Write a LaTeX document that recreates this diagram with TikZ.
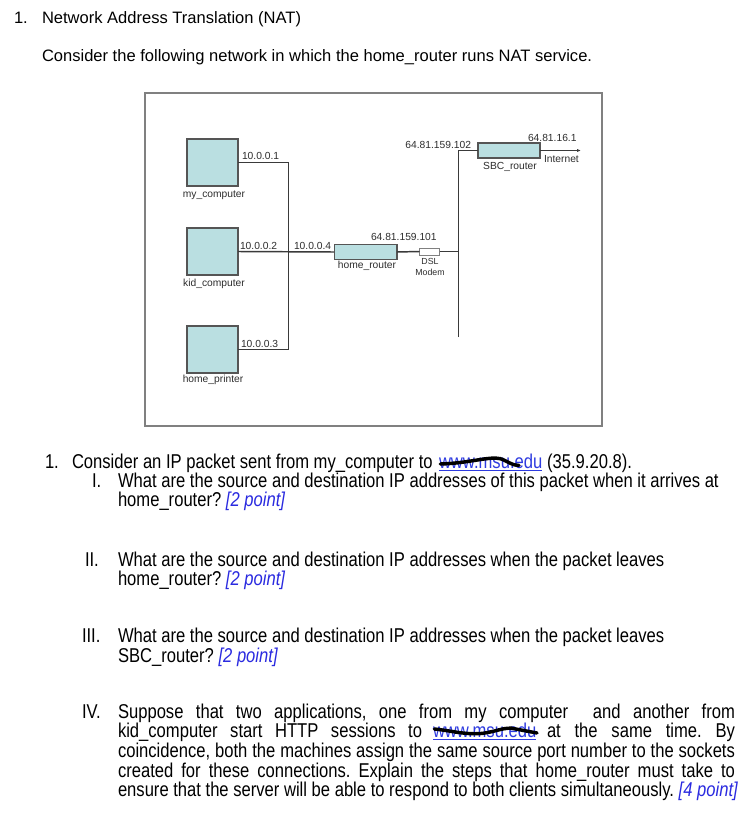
\documentclass[tikz,border=0pt]{standalone}
\usepackage{fontspec}
\setmainfont{Liberation Sans}
\newfontfamily\narrowfont[FakeStretch=0.83]{Liberation Sans}
\usepackage{graphicx}
\usetikzlibrary{arrows.meta, positioning, calc}
\definecolor{hostfill}{HTML}{BADFE1}
\definecolor{framegray}{HTML}{808080}
\definecolor{boxgray}{HTML}{555555}
\definecolor{wiregray}{HTML}{3A3A3A}
\definecolor{labgray}{HTML}{2E2E2E}
\definecolor{linkblue}{HTML}{2E3BE0}
\definecolor{ptblue}{HTML}{2A2AE0}
\frenchspacing

\begin{document}
\begin{tikzpicture}[x=0.75pt, y=-0.75pt,
    every node/.style={inner sep=0pt, outer sep=0pt},
    head/.style={font=\fontsize{12.4}{14}\selectfont, anchor=base west},
    qtxt/.style={font=\narrowfont\fontsize{15}{14.6}\selectfont, anchor=base west},
    lbl/.style={font=\fontsize{7.7}{9}\selectfont, text=labgray},
    frame/.style={rectangle, draw=framegray, line width=1.4pt,
                  minimum width=342.75pt, minimum height=249.75pt},
    host/.style={rectangle, draw=boxgray, line width=1pt, fill=hostfill,
                 minimum width=38.25pt, minimum height=35.25pt},
    rtr/.style={rectangle, draw=boxgray, line width=1pt, fill=hostfill,
                minimum width=47pt, minimum height=11pt},
    modem/.style={rectangle, draw=gray, line width=0.5pt, fill=white,
                  minimum width=15pt, minimum height=5.25pt},
    wire/.style={wiregray, line width=0.75pt},
    thickwire/.style={wiregray, line width=1.1pt},
    scrib/.style={line width=2.6pt, line cap=round, black}
]
    \useasboundingbox[fill=white] (0,0) rectangle (748,817);

    \node[head] (t1n) at (14,24) {1.};
    \node[head] (t1) at (42,24) {Network Address Translation (NAT)};
    \node[head] (t2) at (42,62) {Consider the following network in which the home\_router runs NAT service.};

    \node[frame] (fr) at (373.5,259.5) {};

    \node[host] (mycomp) at (212.5,162.5) {};
    \node[host] (kidcomp) at (212.5,251.5) {};
    \node[host] (printer) at (212.5,349.5) {};
    \node[lbl, anchor=base] (mycompl) at (214,197) {my\_computer};
    \node[lbl, anchor=base] (kidcompl) at (214,286.5) {kid\_computer};
    \node[lbl, anchor=base] (printerl) at (213,382.5) {home\_printer};

    \coordinate (bus) at (288,0);
    \draw[wire] (mycomp.east) -- (mycomp.east -| bus) -- (printer.east -| bus) -- (printer.east);
    \node[lbl, anchor=base west] (ip1) at (242,159.5) {10.0.0.1};
    \node[lbl, anchor=base west] (ip2) at (240,249.5) {10.0.0.2};
    \node[lbl, anchor=base west] (ip3) at (241,347) {10.0.0.3};

    \node[rtr] (homert) at (365.5,252) {};
    \draw[thickwire] (kidcomp.east) -- (homert.west);
    \node[lbl, anchor=base west] (ip4) at (294,249) {10.0.0.4};
    \node[lbl, anchor=base west] (ipout) at (371,240.3) {64.81.159.101};
    \node[lbl, anchor=base] (homertl) at (367,268) {home\_router};

    \node[modem] (dsl) at (429.5,251.5) {};
    \node[lbl, anchor=base, font=\fontsize{6.6}{8}\selectfont] (dsll) at (430,264.7) {DSL};
    \node[lbl, anchor=base, font=\fontsize{6.6}{8}\selectfont] (modeml) at (430,275.3) {Modem};

    \node[rtr, minimum width=46.5pt, minimum height=11.25pt] (sbc) at (509,150.5) {};
    \coordinate (wanbot) at (458,337);
    \coordinate (inet) at (581,150.5);
    \draw[thickwire] (homert.east) -- (dsl.west);
    \draw[thickwire] (dsl.east) -- (dsl.east -| wanbot);
    \draw[wire] (wanbot) |- (sbc.west);
    \draw[wire, -{Latex[length=3pt, width=2.4pt]}] (sbc.east) -- (inet);
    \node[lbl, anchor=base east] (ipsbc) at (471,148.3) {64.81.159.102};
    \node[lbl, anchor=base west] (ipnet) at (528,141.7) {64.81.16.1};
    \node[lbl, anchor=base west] (inetl) at (544,162.3) {Internet};
    \node[lbl, anchor=base] (sbcl) at (510,169.3) {SBC\_router};

    \node[qtxt] (q1n) at (45,468) {1.};
    \node[qtxt] (q1) at (72,468) {Consider an IP packet sent from my\_computer to};
    \node[qtxt] (url1) at (439,468) {\color{linkblue}\underline{www.msu.edu}};
    \node[qtxt] (q1e) at ([xshift=3.6pt]url1.base east) {(35.9.20.8).};
    \draw[scrib] ([xshift=1pt, yshift=3pt]url1.base west)
        .. controls ([xshift=22pt, yshift=3.5pt]url1.base west) and ([xshift=38pt, yshift=9pt]url1.base west)
        .. ([xshift=46pt, yshift=7pt]url1.base west)
        .. controls ([xshift=52pt, yshift=5pt]url1.base west) and ([xshift=54pt, yshift=2pt]url1.base west)
        .. ([xshift=60pt, yshift=2pt]url1.base west);

    \node[qtxt] (q1in) at (92,487) {I.};
    \node[qtxt] (q1i) at (118,487) {What are the source and destination IP addresses of this packet when it arrives at};
    \node[qtxt] (q1ib) at (118,506) {home\_router? {\color{ptblue}\itshape[2 point]}};

    \node[qtxt] (q2n) at (85,566) {II.};
    \node[qtxt] (q2) at (118,566) {What are the source and destination IP addresses when the packet leaves};
    \node[qtxt] (q2b) at (118,585) {home\_router? {\color{ptblue}\itshape[2 point]}};

    \node[qtxt] (q3n) at (82,642) {III.};
    \node[qtxt] (q3) at (118,642) {What are the source and destination IP addresses when the packet leaves};
    \node[qtxt] (q3b) at (118,662) {SBC\_router? {\color{ptblue}\itshape[2 point]}};

    \node[qtxt] (q4n) at (82,718) {IV.};
    \node[qtxt] (q4a) at (118,718) {\makebox[462.75pt][s]{Suppose that two applications, one from my computer\ \ and another from}};
    \node[qtxt] (q4b) at (118,737) {\makebox[228pt][s]{kid\_computer start HTTP sessions to}};
    \node[qtxt] (url2) at (433,737) {\color{linkblue}\underline{www.msu.edu}};
    \node[qtxt, anchor=base east] (q4c) at (735,737) {\makebox[141pt][s]{at the same time. By}};
    \draw[scrib] ([xshift=1pt, yshift=6pt]url2.base west)
        .. controls ([xshift=12pt, yshift=5pt]url2.base west) and ([xshift=22pt, yshift=2pt]url2.base west)
        .. ([xshift=34pt, yshift=2.5pt]url2.base west)
        .. controls ([xshift=46pt, yshift=3pt]url2.base west) and ([xshift=54pt, yshift=8.5pt]url2.base west)
        .. ([xshift=62pt, yshift=6pt]url2.base west)
        -- ([xshift=78pt, yshift=3pt]url2.base west);
    \node[qtxt] (q4d) at (118,757) {\makebox[462.75pt][s]{coincidence, both the machines assign the same source port number to the sockets}};
    \node[qtxt] (q4e) at (118,777) {\makebox[462.75pt][s]{created for these connections. Explain the steps that home\_router must take to}};
    \node[qtxt] (q4f) at (118,796) {ensure that the server will be able to respond to both clients simultaneously. {\color{ptblue}\itshape[4 point]}};
\end{tikzpicture}
\end{document}
